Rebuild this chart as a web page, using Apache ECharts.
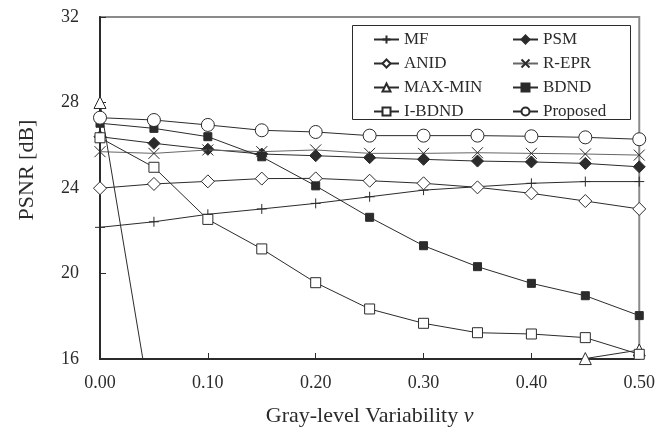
<!DOCTYPE html>
<html>
<head>
<meta charset="utf-8">
<script src="https://cdn.jsdelivr.net/npm/echarts@6/dist/echarts.min.js"></script>
<style>html,body{margin:0;padding:0;background:#fff}#c{width:658px;height:439px}</style>
</head>
<body>
<div id="c"></div>
<script>
var vValues = [0, 0.05, 0.10, 0.15, 0.20, 0.25, 0.30, 0.35, 0.40, 0.45, 0.50];
var xTickLabels = ['0.00', '0.10', '0.20', '0.30', '0.40', '0.50'];
var yTickLabels = ['16', '20', '24', '28', '32'];

var MF      = [22.16, 22.42, 22.77, 23.02, 23.28, 23.59, 23.90, 24.06, 24.22, 24.30, 24.30];
var PSM     = [26.40, 26.09, 25.81, 25.59, 25.51, 25.42, 25.34, 25.26, 25.22, 25.15, 24.99];
var ANID    = [23.99, 24.19, 24.31, 24.44, 24.45, 24.34, 24.22, 24.03, 23.75, 23.39, 23.02];
var REPR    = [25.70, 25.62, 25.78, 25.70, 25.78, 25.62, 25.62, 25.65, 25.62, 25.59, 25.54];
var MAXMIN  = [28.00, 12.90, null, null, null, null, null, null, 15.80, 16.02, 16.42];
var BDND    = [27.03, 26.79, 26.40, 25.46, 24.10, 22.63, 21.30, 20.32, 19.54, 18.96, 18.03];
var IBDND   = [26.35, 24.97, 22.53, 21.15, 19.57, 18.34, 17.67, 17.23, 17.17, 17.00, 16.22];
var PROPOSED= [27.29, 27.18, 26.95, 26.70, 26.62, 26.45, 26.45, 26.45, 26.42, 26.37, 26.28];

var legendCol1 = ['MF', 'ANID', 'MAX-MIN', 'I-BDND'];
var legendCol2 = ['PSM', 'R-EPR', 'BDND', 'Proposed'];

function pairs(arr) { return vValues.map(function (v, i) { return [v, arr[i]]; }); }

var ink = '#2b2b2b';
var font = '"Liberation Serif", "Times New Roman", serif';

function mk(name, data, symbol, size, fill, lineColor, z) {
  return {
    name: name, type: 'line', data: pairs(data), symbol: symbol, symbolSize: size,
    z: z, clip: true, animation: false, connectNulls: false,
    lineStyle: { color: lineColor || ink, width: 1 },
    itemStyle: { color: fill, borderColor: ink, borderWidth: 1 },
    emphasis: { disabled: true }
  };
}

var plusPath = 'path://M0,5L10,5M5,0L5,10';
var crossPath = 'path://M0,0L10,10M10,0L0,10';

var chart = echarts.init(document.getElementById('c'), null, { renderer: 'canvas' });
chart.setOption({
  animation: false,
  backgroundColor: '#fff',
  grid: { left: 100, right: 16, top: 17, bottom: 80, show: true, borderColor: '#8a8a8a', borderWidth: 2, backgroundColor: 'transparent' },
  xAxis: {
    type: 'value', min: 0, max: 0.5, interval: 0.1,
    name: 'Gray-level Variability {i|v}', nameLocation: 'middle', nameGap: 46,
    nameTextStyle: { fontFamily: font, fontSize: 22, color: ink,
      rich: { i: { fontFamily: font, fontSize: 22, fontStyle: 'italic', color: ink } } },
    axisLine: { lineStyle: { color: ink, width: 2 } },
    axisTick: { inside: true, length: 6, lineStyle: { color: ink, width: 1 } },
    axisLabel: { fontFamily: font, fontSize: 18, color: ink, margin: 15,
      formatter: function (v) { return xTickLabels[Math.round(v * 10)]; } },
    splitLine: { show: false }
  },
  yAxis: {
    type: 'value', min: 16, max: 32, interval: 4,
    axisLine: { show: true, lineStyle: { color: ink, width: 2 } },
    axisTick: { show: true, inside: true, length: 6, lineStyle: { color: ink, width: 1 } },
    axisLabel: { fontFamily: font, fontSize: 18, color: ink, margin: 21,
      formatter: function (v) { return yTickLabels[Math.round((v - 16) / 4)]; } },
    splitLine: { show: false }
  },
  graphic: [
    { type: 'rect', left: 352, top: 25, z: 50, shape: { width: 278, height: 94 },
      style: { fill: '#fff', stroke: ink, lineWidth: 1 } },
    { type: 'text', z: 60, x: 27, y: 170, rotation: Math.PI / 2,
      style: { text: 'PSNR [dB]', font: '22px ' + font, fill: ink, align: 'center', verticalAlign: 'middle' } }
  ],
  legend: [
    { data: legendCol1, orient: 'vertical', left: 368, top: 26, itemWidth: 25, itemHeight: 10, itemGap: 7, z: 100,
      textStyle: { fontFamily: font, fontSize: 17, color: ink }, selectedMode: false },
    { data: legendCol2, orient: 'vertical', left: 507, top: 26, itemWidth: 25, itemHeight: 10, itemGap: 7, z: 100,
      textStyle: { fontFamily: font, fontSize: 17, color: ink }, selectedMode: false }
  ],
  series: [
    mk('MF', MF, plusPath, 10, 'none', ink, 2),
    mk('PSM', PSM, 'diamond', 12, ink, ink, 3),
    mk('ANID', ANID, 'diamond', 13, '#fff', ink, 4),
    mk('R-EPR', REPR, crossPath, 11, 'none', '#666', 5),
    mk('MAX-MIN', MAXMIN, 'triangle', 12, '#fff', ink, 6),
    mk('BDND', BDND, 'rect', 8, ink, ink, 7),
    mk('I-BDND', IBDND, 'rect', 10, '#fff', ink, 8),
    mk('Proposed', PROPOSED, 'circle', 13, '#fff', ink, 9)
  ]
});
</script>
</body>
</html>
